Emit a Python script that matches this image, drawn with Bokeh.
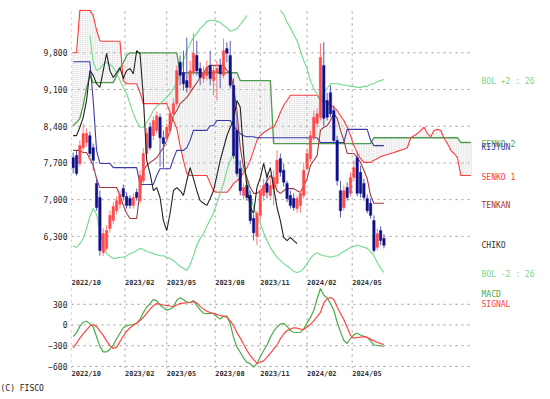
from bokeh.plotting import figure
from bokeh.models import (Range1d, FixedTicker, LinearAxis, Label,
                          ColumnDataSource, NumeralTickFormatter)
from bokeh.core.properties import value
from bokeh.layouts import column
from bokeh.embed import file_html
from bokeh.resources import INLINE

NAN = float("nan")

# ---------------- data (weekly bars) ----------------
date_labels = ["2022/10", "2023/02", "2023/05", "2023/08", "2023/11", "2024/02", "2024/05"]
date_slots = [-0.5, 15.5, 28.0, 42.5, 56.0, 70.0, 83.5]
price_ticks = [6300, 7000, 7700, 8400, 9100, 9800]
macd_ticks = [-600, -300, 0, 300]

open_ = [7800, 7840, 7690, 7990, 8090, 8220, 7990, 7310, 7040, 5990,
         6070, 6450, 6600, 6790, 6910, 7210, 7060, 7020, 6890, 7140,
         6980, 7360, 7880, 8380, 8220, 8320, 8570, 8180, 8170, 8320,
         8640, 8830, 9620, 9420, 9270, 9140, 9420, 9750, 9500, 9310,
         9370, 9560, 9270, 9420, 9560, 9370, 9880, 9750, 9180, 8320,
         7590, 7080, 7270, 7080, 6640, 6300, 6700, 7080, 7310, 7080,
         7210, 7310, 7780, 7560, 7310, 7080, 7020, 6830, 6890, 7080,
         7590, 7780, 8180, 8450, 8570, 9560, 8890, 9040, 8700, 8130,
         7170, 6850, 7230, 7120, 7420, 7800, 7520, 7310, 7020, 6930,
         6600, 6090, 6410, 6260]
high = [7900, 7940, 8130, 8450, 8360, 8300, 8070, 7400, 7170, 6450,
        6510, 6790, 6950, 7060, 7170, 7290, 7140, 7080, 7120, 7210,
        7560, 7980, 8360, 8470, 8590, 8680, 8640, 8320, 8450, 8700,
        8930, 9560, 9750, 9840, 10090, 9650, 10170, 10030, 9620, 9540,
        9650, 9840, 9560, 9650, 9690, 10070, 10000, 10030, 9310, 8660,
        7750, 7310, 7360, 7170, 6720, 6790, 7210, 7400, 7520, 7400,
        7560, 7940, 7880, 7690, 7360, 7170, 7120, 7080, 7170, 7710,
        7980, 8320, 8700, 8740, 9980, 10000, 9040, 9180, 8800, 8220,
        7360, 7270, 7330, 7520, 7750, 7900, 7650, 7400, 7100, 7020,
        6700, 6450, 6490, 6340]
low = [7500, 7460, 7630, 7940, 8010, 7820, 7560, 6790, 5930, 5930,
       6030, 6370, 6530, 6720, 6830, 6980, 6830, 6830, 6830, 6980,
       6930, 7310, 7820, 7940, 8130, 8260, 7630, 7610, 8090, 8260,
       8570, 8780, 9180, 9080, 9040, 9040, 9370, 9370, 9180, 9230,
       9270, 9180, 8990, 8890, 9120, 9310, 9620, 9120, 7780, 7440,
       7080, 7000, 6980, 6530, 6220, 6130, 6600, 6980, 7020, 7020,
       6890, 7250, 7440, 7250, 6950, 6830, 6790, 6750, 6750, 7020,
       7560, 7710, 8130, 8380, 8510, 8410, 8510, 8570, 8070, 7270,
       6660, 6790, 6980, 7060, 7360, 7060, 7040, 6980, 6740, 6640,
       5990, 6030, 6130, 6070]
close = [7610, 7500, 8030, 8260, 8260, 7880, 7750, 6850, 6030, 6350,
         6410, 6700, 6870, 6980, 7100, 7060, 6890, 6890, 7040, 7040,
         7460, 7880, 8260, 7990, 8510, 8600, 8180, 8070, 8380, 8640,
         8830, 9460, 9370, 9210, 9140, 9460, 9790, 9460, 9330, 9420,
         9520, 9310, 9460, 9500, 9400, 9840, 9790, 9180, 7840, 7500,
         7170, 7230, 7040, 6600, 6370, 6740, 7170, 7270, 7140, 7270,
         7420, 7750, 7520, 7330, 7020, 6890, 6850, 7020, 7120, 7560,
         7880, 8220, 8570, 8640, 9710, 8550, 8570, 8640, 8130, 7360,
         6790, 7170, 7040, 7420, 7610, 7120, 7120, 7040, 6790, 6700,
         6030, 6350, 6220, 6130]

tenkan = [7940, 7940, 7940, 7900, 7900, 7780, 7650, 7400, 7230, 7230,
          7230, 7230, 7230, 7230, 7080, 6890, 6740, 6640, 6640, 6640,
          7170, 7560, 7650, 7710, 7750, 7800, 7900, 7990, 8130, 8320,
          8600, 8700, 8830, 8890, 8950, 9040, 9140, 9230, 9330, 9420,
          9520, 9560, 9560, 9560, 9560, 9560, 9460, 9420, 9140, 8700,
          7990, 7610, 7420, 7230, 7120, 7120, 7170, 7230, 7360, 7460,
          7360, 7170, 7120, 7170, 7210, 7210, 7210, 7170, 7140, 7270,
          7400, 7650, 7750, 7840, 8320, 8380, 8410, 8510, 8640, 8550,
          8320, 8130, 7880, 7880, 7880, 7800, 7710, 7560, 7400, 7080,
          6930, 6930, 6930, 6930]
kijun = [9630, 9630, 9630, 9630, 9630, 9630, 8890, 7940, 7690, 7690,
         7690, 7690, 7610, 7610, 7610, 7610, 7610, 7610, 7610, 7610,
         7290, 7290, 7290, 7290, 7290, 7460, 7590, 7590, 7590, 7590,
         7780, 7940, 7940, 7940, 7990, 8130, 8320, 8320, 8320, 8320,
         8320, 8410, 8410, 8510, 8510, 8510, 8510, 8510, 8410, 8320,
         8260, 8220, 8200, 8200, 8200, 8180, 8180, 8180, 8180, 8180,
         8180, 8180, 8180, 8180, 8180, 8180, 8180, 8180, 8180, 8180,
         8180, 8180, 8180, 8180, 8090, 8090, 8090, 8090, 8090, 8090,
         8090, 8090, 8340, 8340, 8340, 8340, 8340, 8340, 8340, 8130,
         8030, 8030, 8030, 8030]
senko1 = [9800, 9800, 10610, 10610, 10610, 10610, 10510, 10230, 10030, 10020,
          10020, 10020, 10020, 10020, 10020, 9270, 9210, 9210, 9210, 9210,
          9040, 8830, 8830, 8830, 8830, 8830, 8830, 8830, 8830, 8660,
          8510, 8360, 8030, 7750, 7500, 7460, 7460, 7460, 7460, 7460,
          7460, 7310, 7170, 7140, 7140, 7140, 7140, 7210, 7310, 7360,
          7420, 7520, 7610, 7750, 7940, 8130, 8220, 8280, 8320, 8360,
          8380, 8510, 8660, 8800, 8890, 8990, 8990, 8990, 8990, 8990,
          8990, 8990, 8990, 8990, 8890, 8890, 8850, 8800, 8760, 8700,
          8600, 8510, 8380, 8220, 8030, 7900, 7780, 7710, 7710, 7710,
          7750, 7780, 7820, 7840, 7860, 7880, 7900, 7920, 7940, 7960,
          7990, 8180, 8220, 8260, 8320, 8380, 8260, 8200, 8320, 8340,
          8320, 8170, 8070, 7940, 7880, 7800, 7460, 7460, 7460, 7460]
senko2 = [8410, 8470, 8550, 8800, 9120, 9370, 9230, 9230, 9230, 9230,
          9230, 9230, 9230, 9370, 9500, 9610, 9750, 9800, 9800, 9800,
          9800, 9800, 9800, 9800, 9800, 9800, 9800, 9800, 9800, 9800,
          9800, 9800, 9420, 9420, 9420, 9420, 9420, 9420, 9420, 9420,
          9420, 9420, 9420, 9420, 9420, 9420, 9420, 9420, 9420, 9420,
          9270, 9270, 9270, 9270, 9270, 9270, 9270, 9270, 9270, 9270,
          8070, 8070, 8070, 8070, 8070, 8070, 8070, 8070, 8070, 8070,
          8070, 8070, 8070, 8070, 8070, 8070, 8070, 8070, 8070, 8070,
          8070, 8070, 8070, 8070, 8070, 8070, 8070, 8070, 8070, 8070,
          8180, 8180, 8180, 8180, 8180, 8180, 8180, 8180, 8180, 8180,
          8180, 8180, 8180, 8180, 8180, 8180, 8180, 8180, 8180, 8180,
          8180, 8180, 8180, 8180, 8180, 8180, 8090, 8090, 8090, 8090]
chiko = [8220, 8220, 8380, 8570, 8890, 9460, 9370, 9210, 9140, 9460,
         9790, 9460, 9330, 9420, 9520, 9310, 9460, 9500, 9400, 9840,
         9790, 8950, 7750, 7500, 7170, 7230, 7040, 6600, 6410, 6740,
         7170, 7230, 7170, 7080, 7360, 7610, 7400, 7170, 6980, 6930,
         6890, 7020, 7170, 7460, 7750, 7980, 8220, 8380, 8510, 8890,
         8760, 7880, 7230, 6850, 6740, 7230, 7420, 7690, 7420, 7610,
         7230, 6850, 6600, 6280, 6220, 6280, 6220, 6160]
bol_up = [NAN, NAN, NAN, NAN, NAN, 10130, 9620, 9460, 9500, 9580,
          9620, 9580, 9520, 9420, 9270, 9140, 9020, 8830, 8640, 8490,
          8380, 8380, 8470, 8570, 8700, 8780, 8830, 8890, 8950, 9020,
          9120, 9230, 9420, 9650, 9840, 9980, 10090, 10170, 10260, 10320,
          10400, 10420, 10420, 10400, 10380, 10320, 10280, 10210, 10230, 10260,
          10340, 10420, 10510, NAN, NAN, NAN, NAN, NAN, NAN, NAN,
          NAN, NAN, 10610, 10530, 10380, 10280, 10150, 10030, 9840, 9650,
          9500, 9270, 9120, 9020, 8890, 9020, 9120, 9210, 9210, 9210,
          9200, 9180, 9180, 9160, 9160, 9140, 9140, 9160, 9160, 9200,
          9210, 9250, 9270, 9290]
bol_lo = [6110, 6090, 6160, 6260, 6450, 6680, 6830, 6720, 6410, 6130,
          5970, 5920, 5880, 5880, 5900, 5900, 5930, 5970, 5990, 6030,
          6070, 6050, 6010, 5990, 5970, 5950, 5930, 5930, 5900, 5880,
          5840, 5780, 5730, 5690, 5650, 5760, 5930, 6130, 6260, 6350,
          6490, 6620, 6740, 6930, 7120, 7310, 7560, 7750, 7880, 7780,
          7650, 7520, 7420, 7080, 6850, 6700, 6540, 6370, 6220, 6090,
          5990, 5900, 5840, 5780, 5740, 5690, 5630, 5610, 5630, 5690,
          5780, 5880, 5950, 5990, 5950, 5930, 5920, 5900, 5920, 5930,
          5970, 6010, 6050, 6090, 6110, 6130, 6110, 6090, 6070, 6010,
          5930, 5800, 5690, 5610]
macd = [-170, -110, -20, 40, 55, 20, -30, -170, -310, -390,
        -390, -350, -290, -200, -120, -40, -10, 0, 5, 25,
        80, 180, 260, 310, 370, 350, 290, 250, 215, 230,
        260, 360, 395, 370, 330, 326, 355, 280, 220, 170,
        165, 167, 167, 120, 85, 130, 128, 20, -180, -320,
        -395, -480, -540, -560, -610, -560, -460, -370, -290, -180,
        -90, -30, 15, 22, -20, -80, -105, -109, -105, -55,
        30, 110, 210, 380, 529, 430, 395, 310, 210, 40,
        -100, -225, -268, -196, -140, -120, -145, -165, -180, -230,
        -290, -297, -300, -312]
signal = [-330, -265, -190, -130, -70, -15, 5, -20, -90, -150,
          -230, -300, -340, -320, -240, -160, -90, -40, -5, 25,
          65, 110, 170, 230, 280, 310, 300, 290, 283, 275,
          268, 290, 312, 318, 322, 326, 338, 320, 270, 230,
          200, 181, 165, 150, 138, 125, 112, 60, -10, -110,
          -190, -280, -370, -440, -500, -555, -540, -520, -470, -410,
          -350, -290, -200, -130, -80, -60, -40, -45, -60, -65,
          -30, 10, 60, 120, 181, 320, 380, 398, 370, 260,
          167, 80, -36, -150, -190, -181, -175, -168, -180, -205,
          -230, -250, -270, -283]

N = len(close)
AHEAD = 26
for arr in (open_, high, low, tenkan, kijun, bol_up, bol_lo, macd, signal):
    assert len(arr) == N, len(arr)
assert len(senko1) == N + AHEAD and len(senko2) == N + AHEAD
assert len(chiko) == N - AHEAD

# ---------------- layout / styling ----------------
FONT = "DejaVu Sans Mono"
GRID_C = "#9a9a9a"
GRID_DASH = "2 4"
FIG_W = 550
LEFT = 71                 # frame left edge (px)
DATA_W = 401              # width of the candle + cloud area (px)
SLOTS = N + AHEAD
PPU = DATA_W / SLOTS
X0 = -0.5
X_DATA_END = SLOTS - 0.5
X_RANGE = Range1d(X0, X0 + (FIG_W - LEFT) / PPU)   # frame also holds the right-hand labels

C_BOL = "#6fd98c"
C_S2 = "#4c9c4c"
C_KIJ = "#3a3aa6"
C_S1 = "#ff3c3c"
C_TEN = "#a33a3a"
C_CHI = "#222222"
C_UP = "#ff4a4a"
C_UP_W = "#ff7a7a"
C_DN = "#10108c"
C_DN_W = "#5a5ab4"


def style_yaxis(ax):
    ax.axis_line_color = None
    ax.major_tick_line_color = None
    ax.minor_tick_line_color = None
    ax.major_tick_out = 0
    ax.major_tick_in = 0
    ax.major_label_standoff = 4
    ax.major_label_text_font = FONT
    ax.major_label_text_font_size = "8px"
    ax.major_label_text_color = "#222222"


def dotted_grid(fig, yticks, y_lo, y_hi):
    # horizontal lines only across the data area, vertical lines at month starts
    fig.segment(x0=[X0] * len(yticks), y0=yticks, x1=[X_DATA_END] * len(yticks), y1=yticks,
                line_color=GRID_C, line_dash=GRID_DASH, line_width=1)
    fig.segment(x0=date_slots, y0=[y_lo] * len(date_slots), x1=date_slots,
                y1=[y_hi] * len(date_slots),
                line_color=GRID_C, line_dash=GRID_DASH, line_width=1)


# ---------------- main (Ichimoku) panel ----------------
P_TOP = 10626
P_DATA_BOTTOM = 5515            # bottom of the drawing area (277 px)
PX_PER_YEN = 268 / (P_TOP - P_DATA_BOTTOM)
P_Y = Range1d(P_TOP - 277 / PX_PER_YEN, P_TOP)   # frame runs on under the month labels
p = figure(width=FIG_W, height=286, x_range=X_RANGE, y_range=P_Y,
           x_axis_type=None, output_backend="svg", toolbar_location=None,
           min_border_left=LEFT, min_border_right=0, min_border_top=9, min_border_bottom=0)
p.outline_line_color = None
p.yaxis.ticker = FixedTicker(ticks=price_ticks)
p.yaxis.formatter = NumeralTickFormatter(format="0,0")
style_yaxis(p.yaxis[0])
p.ygrid.visible = False
dotted_grid(p, price_ticks, P_DATA_BOTTOM, P_TOP)

xa = list(range(SLOTS))
xs = list(range(N))
xc = list(range(len(chiko)))

# cloud hatching between the two leading spans
for dx in (-0.25, 0.25):
    xx = [x + dx for x in xa]
    p.segment(x0=xx, y0=senko1, x1=xx, y1=senko2, line_color="#d0d0d0",
              line_width=1, line_dash="1 1")

p.line(xa, senko2, line_color=C_S2, line_width=1.3)
p.line(xa, senko1, line_color=C_S1, line_width=1.1)
p.line(xs, bol_up, line_color=C_BOL, line_width=1.1)
p.line(xs, bol_lo, line_color=C_BOL, line_width=1.1)
p.line(xs, kijun, line_color=C_KIJ, line_width=1.1)
p.line(xs, tenkan, line_color=C_TEN, line_width=1.1)


def candle_source(is_up):
    sel = [i for i in xs if (close[i] >= open_[i]) == is_up]
    return ColumnDataSource(dict(
        x=sel,
        top=[max(open_[i], close[i]) for i in sel],
        bottom=[min(open_[i], close[i]) for i in sel],
        high=[high[i] for i in sel],
        low=[low[i] for i in sel]))


for is_up, body_c, wick_c in ((True, C_UP, C_UP_W), (False, C_DN, C_DN_W)):
    src = candle_source(is_up)
    p.segment(x0="x", y0="low", x1="x", y1="high", source=src,
              line_color=wick_c, line_width=1)
    p.vbar(x="x", width=0.72, top="top", bottom="bottom", source=src,
           fill_color=body_c, line_color=body_c, line_width=0.5)

p.line(xc, chiko, line_color=C_CHI, line_width=1.1)

# month labels under the price panel (left-aligned on their grid line)
DATE_Y = P_DATA_BOTTOM - 5.5 / PX_PER_YEN
p.text(x=date_slots, y=[DATE_Y] * len(date_slots), text=date_labels,
       text_font=value(FONT), text_font_size="7px", text_font_style="bold",
       text_color="#333333", text_align="left", text_baseline="middle")


def last_valid(seq):
    return [v for v in seq if v == v][-1]


label_x = X_DATA_END + 9 / PPU
for text, series, col in (("BOL +2 : 26", bol_up, C_BOL),
                          ("SENKO 2", senko2, C_S2),
                          ("KIJYUN", kijun, C_KIJ),
                          ("SENKO 1", senko1, C_S1),
                          ("TENKAN", tenkan, C_TEN),
                          ("CHIKO", chiko, "#333333"),
                          ("BOL -2 : 26", bol_lo, C_BOL)):
    p.add_layout(Label(x=label_x, y=last_valid(series), text=text, text_color=col,
                       text_font=FONT, text_font_size="8px",
                       text_baseline="middle", y_offset=-2))

# ---------------- MACD panel ----------------
MACD_Y = Range1d(-630, 543)
q = figure(width=FIG_W, height=94, x_range=X_RANGE, y_range=MACD_Y,
           x_axis_type=None, output_backend="svg", toolbar_location=None,
           min_border_left=LEFT, min_border_right=0, min_border_top=1, min_border_bottom=12)
q.outline_line_color = None
q.yaxis.ticker = FixedTicker(ticks=macd_ticks)
style_yaxis(q.yaxis[0])
q.ygrid.visible = False
dotted_grid(q, macd_ticks, MACD_Y.start, MACD_Y.end)

q.line(xs, macd, line_color="#4aab4a", line_width=1.2)
q.line(xs, signal, line_color="#ff4545", line_width=1.2)

# month labels, left-aligned on their grid line (ticks shifted by half a label width)
DATE_FONT_PX = 7
half_w = 0.602 * DATE_FONT_PX * len(date_labels[0]) / 2 / PPU
label_ticks = [round(s + half_w, 3) for s in date_slots]
overrides = {t: lab for t, lab in zip(label_ticks, date_labels)}
ax = LinearAxis(ticker=FixedTicker(ticks=label_ticks), major_label_overrides=overrides)
ax.axis_line_color = None
ax.major_tick_line_color = None
ax.minor_tick_line_color = None
ax.major_tick_out = 0
ax.major_tick_in = 0
ax.major_label_standoff = 1
ax.major_label_text_font = FONT
ax.major_label_text_font_size = f"{DATE_FONT_PX}px"
ax.major_label_text_font_style = "bold"
ax.major_label_text_color = "#333333"
q.add_layout(ax, "below")

q.add_layout(Label(x=label_x, y=440, text="MACD", text_color="#4aab4a",
                   text_font=FONT, text_font_size="8px", text_baseline="middle"))
q.add_layout(Label(x=label_x, y=295, text="SIGNAL", text_color="#ff4545",
                   text_font=FONT, text_font_size="8px", text_baseline="middle"))

# ---------------- footer ----------------
f = figure(width=FIG_W, height=19, x_range=Range1d(0, FIG_W), y_range=Range1d(0, 19),
           x_axis_type=None, y_axis_type=None, output_backend="svg", toolbar_location=None,
           min_border_left=0, min_border_right=0, min_border_top=0, min_border_bottom=0)
if "frame_align" in f.properties():
    f.frame_align = False
f.outline_line_color = None
f.grid.visible = False
f.add_layout(Label(x=0, y=11, text="(C) FISCO", text_color="#222222",
                   text_font=FONT, text_font_size="8px", text_baseline="middle"))

layout = column(p, q, f, spacing=0)
open("out.html", "w").write(file_html(layout, INLINE))
